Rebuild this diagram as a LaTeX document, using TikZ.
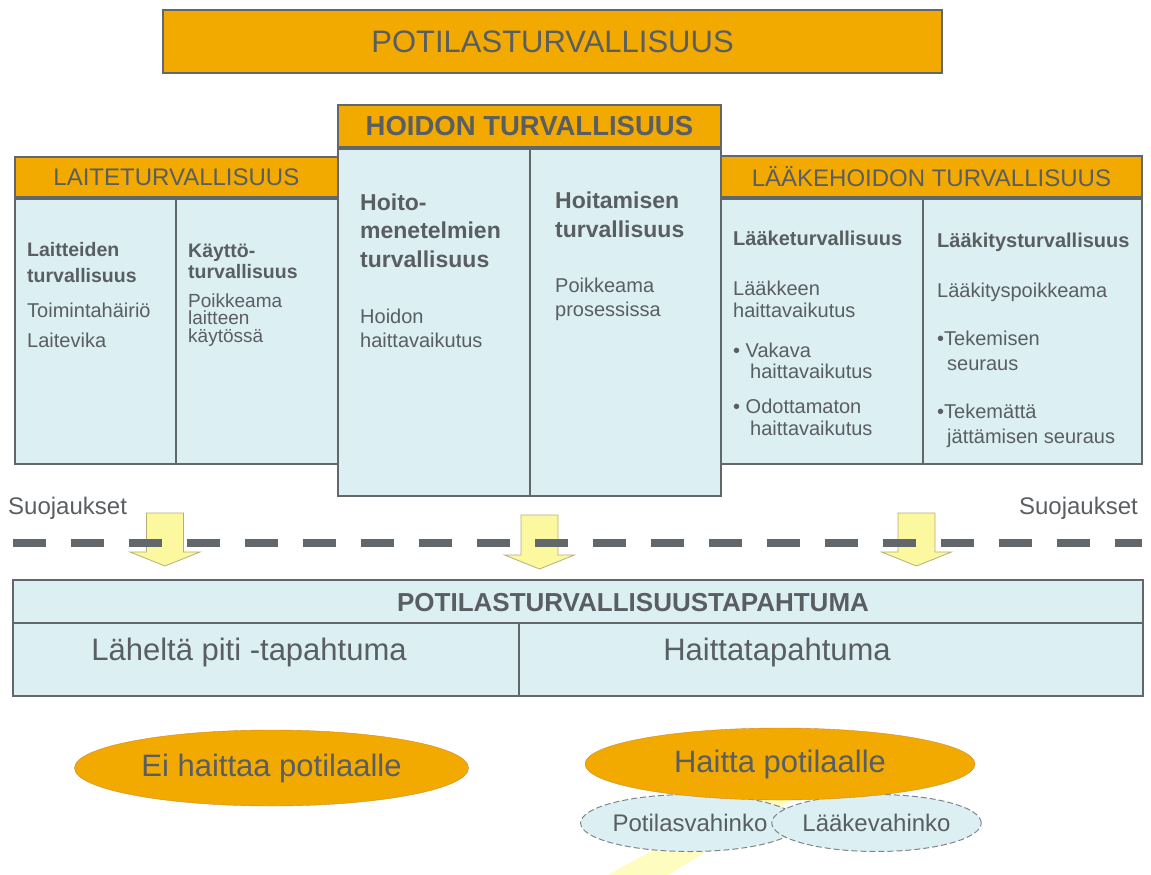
\documentclass[tikz,border=0pt]{standalone}
\usepackage{fontspec}
\setmainfont{Liberation Sans}
\usetikzlibrary{positioning, shapes.geometric}

\definecolor{turvaorange}{HTML}{F2A900}
\definecolor{turvablue}{HTML}{DCEFF3}
\definecolor{turvaline}{HTML}{62676B}
\definecolor{turvatext}{HTML}{595E62}
\definecolor{suojayellow}{HTML}{FBF8A0}
\definecolor{suojaedge}{HTML}{B5AE78}
\newcommand{\tsize}[1]{\fontsize{#1}{#1}\selectfont}

\begin{document}
\begin{tikzpicture}[
    x=1pt, y=-1pt,
    every node/.style={text=turvatext},
    hdr/.style={rectangle, draw=turvaline, line width=1.8pt, fill=turvaorange, inner sep=0pt},
    cellbox/.style={rectangle, draw=turvaline, line width=1.8pt, fill=turvablue, inner sep=0pt, anchor=north west},
    celltext/.style={inner sep=0pt, anchor=base west, align=left},
    blockarrow/.style={draw=suojaedge, fill=suojayellow, line width=0.8pt, line join=miter},
    oval/.style={ellipse, draw=brown!70!turvaorange, fill=turvaorange, inner sep=0pt, font=\tsize{31}},
    damage/.style={ellipse, draw=turvaline!80, dash pattern=on 6pt off 3pt, line width=1pt, fill=turvablue, inner sep=0pt, font=\tsize{24}}
]
\useasboundingbox (0,0) rectangle (1151,875);

% Otsikko
\node[hdr, minimum width=779pt, minimum height=63pt, font=\tsize{31}] (potilas) at (552.5,41.5) {POTILASTURVALLISUUS};

% Laiteturvallisuus
\node[cellbox, minimum width=161pt, minimum height=265pt] (laite1) at (14,198) {};
\node[cellbox, minimum width=162pt, minimum height=265pt] (laite2) at (175,198) {};
\node[hdr, minimum width=323pt, minimum height=40pt, anchor=south west, font=\tsize{24}] (laite) at (14,198) {LAITETURVALLISUUS};
\node[celltext, font=\bfseries\fontsize{19.5}{26}\selectfont] (laite1a) at (27,282) {Laitteiden\\turvallisuus};
\node[celltext, font=\fontsize{20}{30}\selectfont] (laite1b) at (27,347) {Toimintahäiriö\\Laitevika};
\node[celltext, font=\bfseries\fontsize{19.5}{21}\selectfont] (laite2a) at (188,278) {Käyttö-\\turvallisuus};
\node[celltext, font=\fontsize{19}{17.5}\selectfont] (laite2b) at (188,342) {Poikkeama\\laitteen\\käytössä};

% Lääkehoidon turvallisuus
\node[cellbox, minimum width=202pt, minimum height=265pt] (laake1) at (720,198) {};
\node[cellbox, minimum width=219pt, minimum height=265pt] (laake2) at (922,198) {};
\node[hdr, minimum width=421pt, minimum height=41pt, anchor=south west, font=\tsize{24}] (laake) at (720,198) {LÄÄKEHOIDON TURVALLISUUS};
\node[celltext, font=\bfseries\tsize{20}] (laake1a) at (733,245) {Lääketurvallisuus};
\node[celltext, font=\fontsize{20}{22}\selectfont] (laake1b) at (733,317) {Lääkkeen\\haittavaikutus};
\node[celltext, font=\fontsize{20}{21}\selectfont] (laake1c) at (733,378) {• Vakava\\\hspace*{17pt}haittavaikutus};
\node[celltext, font=\fontsize{20}{22}\selectfont] (laake1d) at (733,435) {• Odottamaton\\\hspace*{17pt}haittavaikutus};
\node[celltext, font=\bfseries\tsize{20}] (laake2a) at (937,247) {Lääkitysturvallisuus};
\node[celltext, font=\tsize{20}] (laake2b) at (937,297) {Lääkityspoikkeama};
\node[celltext, font=\fontsize{20}{25}\selectfont] (laake2c) at (937,370) {•Tekemisen\\\hspace*{10pt}seuraus};
\node[celltext, font=\fontsize{20}{25}\selectfont] (laake2d) at (937,443) {•Tekemättä\\\hspace*{10pt}jättämisen seuraus};

% Hoidon turvallisuus
\node[cellbox, minimum width=192pt, minimum height=347pt] (hoito1) at (337,148) {};
\node[cellbox, minimum width=191pt, minimum height=347pt] (hoito2) at (529,148) {};
\node[hdr, minimum width=383pt, minimum height=42pt, anchor=south west, font=\bfseries\tsize{27.5}] (hoidon) at (337,148) {HOIDON TURVALLISUUS};
\node[celltext, font=\bfseries\fontsize{23}{28.5}\selectfont] (hoito1a) at (360,267) {Hoito-\\menetelmien\\turvallisuus};
\node[celltext, font=\fontsize{20}{24}\selectfont] (hoito1b) at (360,347) {Hoidon\\haittavaikutus};
\node[celltext, font=\bfseries\fontsize{23}{29}\selectfont] (hoito2a) at (555,237) {Hoitamisen\\turvallisuus};
\node[celltext, font=\fontsize{20}{24}\selectfont] (hoito2b) at (555,316) {Poikkeama\\prosessissa};

% Suojaukset
\node[font=\tsize{24}, anchor=base west, inner sep=0pt] (suojaL) at (8,514) {Suojaukset};
\node[font=\tsize{24}, anchor=base east, inner sep=0pt] (suojaR) at (1138,514) {Suojaukset};
\foreach \cx/\ty/\hy/\tip in {165/513/552/566, 539.5/515/555/569, 916.5/513/552/566}
    \draw[blockarrow] (\cx-18.5,\ty) -- (\cx+18.5,\ty) -- (\cx+18.5,\hy) -- (\cx+35,\hy)
        -- (\cx,\tip) -- (\cx-35,\hy) -- (\cx-18.5,\hy) -- cycle;
\coordinate (raja1) at (13,542.5);
\coordinate (raja2) at (1142,542.5);
\draw[turvaline, line width=8pt, dash pattern=on 33pt off 25pt] (raja1) -- (raja2);

% Tapahtuma
\node[cellbox, minimum width=1130pt, minimum height=43pt] (tapahtuma) at (12,579) {};
\node[cellbox, minimum width=506pt, minimum height=73pt] (lahelta) at (12,622) {};
\node[cellbox, minimum width=624pt, minimum height=73pt] (haittatap) at (518,622) {};
\node[font=\bfseries\tsize{26}] at (633,603) (tapahtumatxt) {POTILASTURVALLISUUSTAPAHTUMA};
\node[font=\tsize{31}, anchor=base] (laheltatxt) at (249,660) {Läheltä piti -tapahtuma};
\node[font=\tsize{31}, anchor=base] (haittatxt) at (777,660) {Haittatapahtuma};

% Seuraukset
\fill[yellow!25] (608,875) -- (668,875) -- (805,792) -- (758,792) -- cycle;
\node[oval, minimum width=394pt, minimum height=76pt] (eihaittaa) at (271.5,768) {Ei haittaa potilaalle};
\node[damage, minimum width=190pt, minimum height=57pt] (potvahinko) at (690,823) {Potilasvahinko};
\node[damage, minimum width=178pt, minimum height=57pt] (laakevahinko) at (876.5,823) {Lääkevahinko};
\node[oval, minimum width=390pt, minimum height=72pt] (haitta) at (780,764) {Haitta potilaalle};
\end{tikzpicture}
\end{document}
